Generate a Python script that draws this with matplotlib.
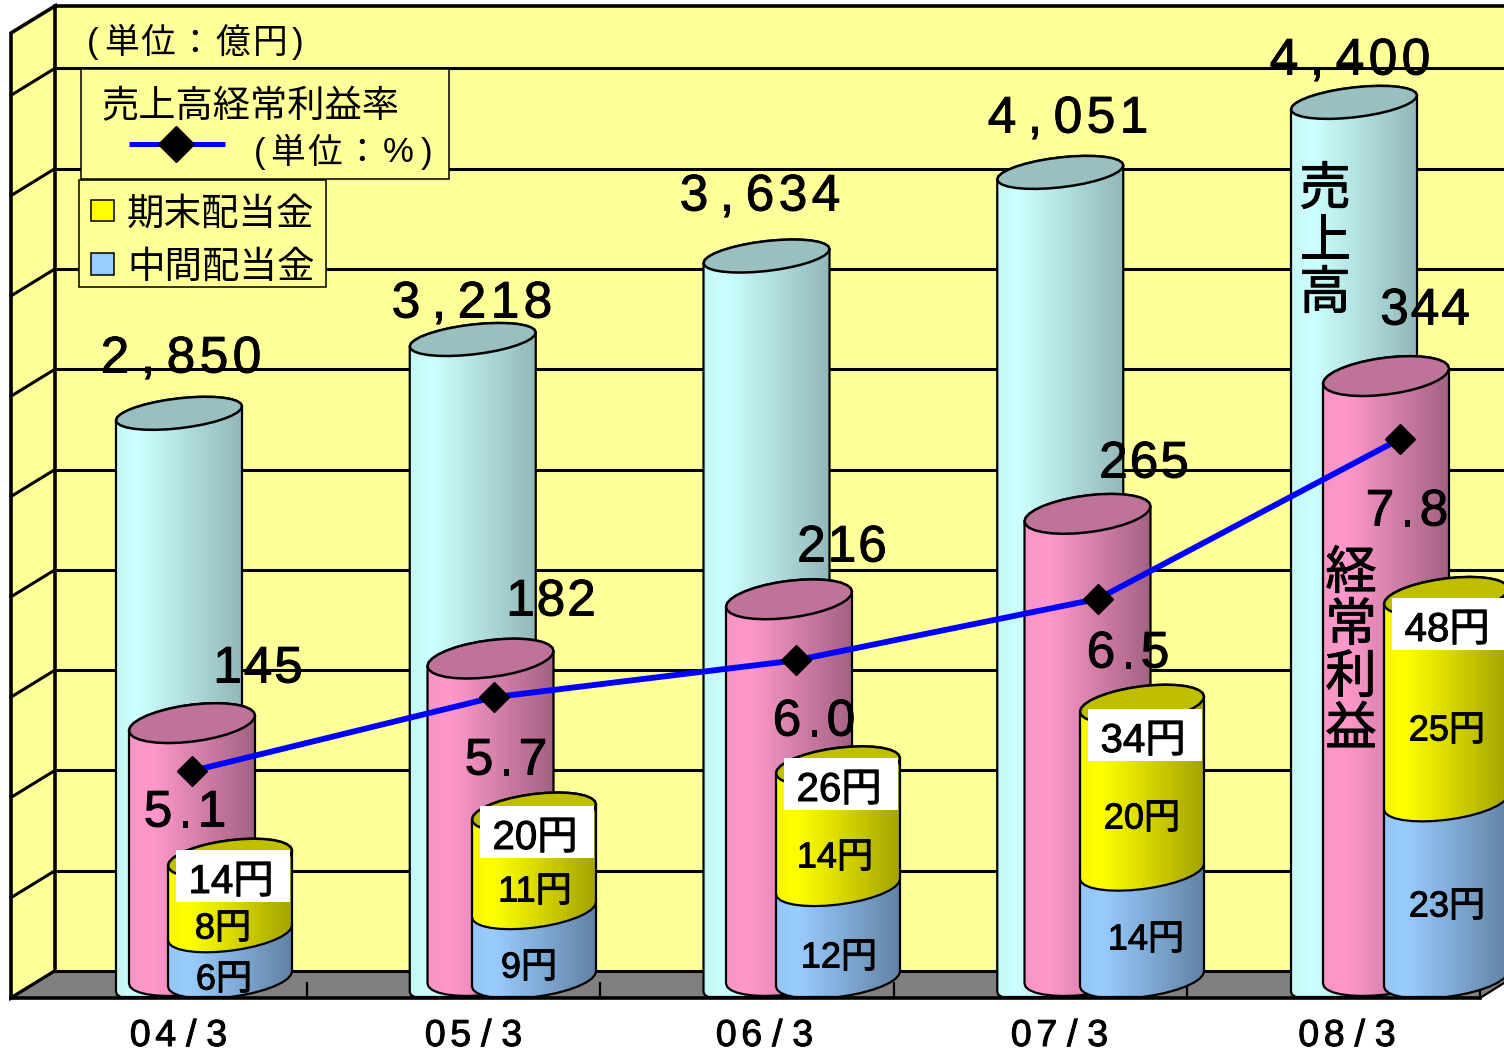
import numpy as np
import matplotlib
matplotlib.use("Agg")
import matplotlib.pyplot as plt
import matplotlib.patheffects as pe
from matplotlib.patches import Polygon, Rectangle
from matplotlib.transforms import Affine2D

# ---------- data ----------
categories = ['04/3', '05/3', '06/3', '07/3', '08/3']
sales = [2850, 3218, 3634, 4051, 4400]
profit = [145, 182, 216, 265, 344]
interim_div = [6, 9, 12, 14, 23]
final_div = [8, 11, 14, 20, 25]
total_div = [14, 20, 26, 34, 48]
ratio = [5.1, 5.7, 6.0, 6.5, 7.8]
grid_values = [500, 1000, 1500, 2000, 2500, 3000, 3500, 4000, 4500]

# ---------- layout ----------
W, H = 1504, 1052
FONT = ['Liberation Sans', 'Noto Sans CJK JP']
PX = Affine2D().scale(1, -1).translate(0, H)
BOLD = [pe.withStroke(linewidth=0.7, foreground='black')]
fig = plt.figure(figsize=(W / 100, H / 100), dpi=100, facecolor='white')


def series_axes(x0, dx, y0, k, z):
    ax = fig.add_axes([0, 0, 1, 1], zorder=z)
    ax.set_xlim(-x0 / dx, (W - x0) / dx)
    ax.set_ylim((y0 - H) / k, y0 / k)
    ax.patch.set_visible(False)
    ax.axis('off')
    return ax


def pos(ax, i, v):
    d = ax.transData.transform((i, v))
    return d[0], H - d[1]


def ell(cx, cy, rx, ry, tilt, t):
    return np.column_stack([cx + rx * np.cos(t),
                            cy + ry * np.sin(t) - tilt * np.cos(t)])


def shade(c, f):
    return np.clip(np.array(matplotlib.colors.to_rgb(c)) * f, 0, 1)


def cylinder(ax, cx, ytop, ybot, color, rx=63, ry=18, tilt=7.5, cap=True, z=2, end=0.64):
    lower = ell(cx, ybot, rx, ry, tilt, np.linspace(0, np.pi, 17))
    lower[:, 1] = np.minimum(lower[:, 1], 997)
    upper = ell(cx, ytop, rx, ry, tilt, np.linspace(np.pi, 2 * np.pi, 17))
    body = Polygon(np.vstack([lower, upper]), closed=True, transform=PX, facecolor='none',
                   edgecolor='black', lw=1.6, zorder=z + 1)
    ax.add_patch(body)
    bands = 26
    tt = (np.arange(bands) + 0.5) / bands
    fac = np.where(tt < 0.18, 0.97 + 0.03 * tt / 0.18, 1 - (1 - end) * (tt - 0.18) / 0.82)
    img = np.array([[shade(color, f) for f in fac]])
    im = ax.imshow(img, extent=(cx - rx, cx + rx, ybot + 40, ytop - 40), aspect='auto', transform=PX,
                   interpolation='nearest', zorder=z)
    im.set_clip_path(body)
    if cap:
        t = np.linspace(0, 2 * np.pi, 33)
        ax.add_patch(Polygon(ell(cx, ytop, rx, ry, tilt, t), closed=True, transform=PX,
                             facecolor=shade(color, 0.75), edgecolor='black', lw=1.8, zorder=z + 2))


def label(ax, x, y, s, size, ha='center', bold=True):
    t = ax.text(x, y, s, transform=PX, family=FONT, fontsize=size, ha=ha, va='center',
                color='black', zorder=20)
    if bold:
        t.set_path_effects(BOLD)
    return t


def spaced(ax, cx, cy, s, size, cell):
    n = len(s)
    for j, ch in enumerate(s):
        label(ax, cx + (j - (n - 1) / 2) * cell, cy, ch, size)


# ---------- walls ----------
ax_wall = series_axes(0, 1, 971, 0.2006, 1)
ax_wall.add_patch(Rectangle((55, 6), W - 55, 965, transform=PX, facecolor='#FFFF99', edgecolor='none'))
ax_wall.add_patch(Polygon([(11, 998), (55, 971), (55, 6), (11, 33)], transform=PX,
                          facecolor='#FFFF99', edgecolor='black', lw=2.6))
ax_wall.add_patch(Polygon([(11, 998), (55, 971), (W, 971), (W, 983), (1480, 998)], transform=PX,
                          facecolor='#808080', edgecolor='none'))
ax_wall.plot([55, W], [971, 971], transform=PX, color='black', lw=2.2)
ax_wall.plot([55, W], [6, 6], transform=PX, color='black', lw=2.6)
for v in grid_values:
    _, y = pos(ax_wall, 0, v)
    ax_wall.plot([55, W], [y, y], transform=PX, color='black', lw=2.2)
    ax_wall.plot([11, 55], [y + 27, y], transform=PX, color='black', lw=2.2)
ax_wall.plot([11, 55], [998, 971], transform=PX, color='black', lw=2)
ax_wall.plot([1480, W], [998, 983], transform=PX, color='black', lw=1.6)
for i in range(5):
    tx = 307 + 293.25 * i
    ax_wall.plot([tx, tx], [983, 998], transform=PX, color='black', lw=1.6)

# ---------- series ----------
ax_sales = series_axes(179, 293.75, 985, 0.2006, 2)
ax_profit = series_axes(192, 298.5, 976, 1.744, 3)
ax_div = series_axes(230, 304, 979, 7.7, 4)
ax_ratio = series_axes(192, 302, 1398.3, 123, 5)
ax_top = series_axes(0, 1, H, 1, 6)
CAP_LIFT = 13

# ---------- value label anchors ----------
sales_lab = [(181, 359), (472, 304), (760, 197), (1068, 119), (1350, 61)]
profit_lab = [(258, 669), (551, 602), (842, 548), (1144, 464), (1425, 311)]
ratio_lab = [(185, 813), (506, 761), (814, 722), (1128, 654), (1407, 512)]
total_lab = [(231, 882), (535, 838), (839, 790), (1143, 741), (1447, 630)]
final_lab = [(223, 929), (535, 892), (835, 858), (1142, 819), (1447, 731)]
interim_lab = [(224, 980), (529, 968), (839, 958), (1146, 940), (1447, 907)]
cat_x = [178.5, 473.5, 764.5, 1059.5, 1347]

for i in range(len(categories)):
    cx, yt = pos(ax_sales, i, sales[i])
    _, yb = pos(ax_sales, i, 0)
    cylinder(ax_sales, cx, yt, yb, '#CCFFFF', ry=15, tilt=7, end=0.72)
    cx, yt = pos(ax_profit, i, profit[i])
    _, yb = pos(ax_profit, i, 0)
    cylinder(ax_profit, cx, yt, yb, '#FF99CC', ry=18.5)
    cx, yb = pos(ax_div, i, 0)
    _, ym = pos(ax_div, i, interim_div[i])
    _, yt = pos(ax_div, i, total_div[i])
    cylinder(ax_div, cx, ym, yb, '#99CCFF', rx=62, cap=False, z=2)
    cylinder(ax_div, cx, yt - CAP_LIFT, ym, '#FFFF00', rx=62, z=5)
    ax_div.add_patch(Rectangle((cx - 54, total_lab[i][1] - 32), 114, 52, transform=PX,
                               facecolor='white', edgecolor='none', zorder=9))

ax_ratio.plot(range(len(ratio)), ratio, color='#0000FF', lw=4.2, marker='D', markersize=15,
              markerfacecolor='black', markeredgecolor='black', solid_capstyle='butt')

for i in range(len(categories)):
    spaced(ax_top, *sales_lab[i], f"{sales[i]:,}", 37, 33)
    spaced(ax_top, *profit_lab[i], str(profit[i]), 37, 30.5)
    spaced(ax_top, *ratio_lab[i], f"{ratio[i]:.1f}", 37, 27)
    label(ax_top, *total_lab[i], f"{total_div[i]}円", 29)
    label(ax_top, *final_lab[i], f"{final_div[i]}円", 26)
    label(ax_top, *interim_lab[i], f"{interim_div[i]}円", 26)
    spaced(ax_top, cat_x[i], 1036, categories[i], 27, 25.5)

ax_top.plot([11, 1480], [998, 998], transform=PX, color='black', lw=2.6, zorder=9)

for ch, y in zip('売上高', (191, 243, 295)):
    label(ax_top, 1325, y, ch, 37)
for ch, y in zip('経常利益', (575, 627, 679, 731)):
    label(ax_top, 1351, y, ch, 37)

# ---------- legends ----------
for ch, x in zip('(単位：億円)', (93, 121, 158, 195, 233, 270, 298)):
    label(ax_top, x, 44, ch, 25, bold=False)
ax_top.add_patch(Rectangle((81, 69), 368, 110, transform=PX, facecolor='#FFFF99', edgecolor='black', lw=1.1))
ax_top.add_patch(Rectangle((79, 180), 247, 107, transform=PX, facecolor='#FFFF99', edgecolor='black', lw=1.1))
label(ax_top, 101, 108, '売上高経常利益率', 26.8, ha='left', bold=False)
for ch, x in zip('(単位：%)', (260, 288, 325, 362, 398, 427)):
    label(ax_top, x, 153, ch, 25, bold=False)
ax_top.plot([129, 225], [144, 144], transform=PX, color='#0000FF', lw=3.6, solid_capstyle='butt')
ax_top.plot([176], [144], transform=PX, marker='D', markersize=18, color='black')
ax_top.add_patch(Rectangle((91, 200), 23, 21, transform=PX, facecolor='#FFFF00', edgecolor='black', lw=1.1))
ax_top.add_patch(Rectangle((91, 253), 23, 22, transform=PX, facecolor='#99CCFF', edgecolor='black', lw=1.1))
label(ax_top, 127, 215, '期末配当金', 27, ha='left', bold=False)
label(ax_top, 127, 268, '中間配当金', 27, ha='left', bold=False)

fig.savefig('out.png', dpi=100)
